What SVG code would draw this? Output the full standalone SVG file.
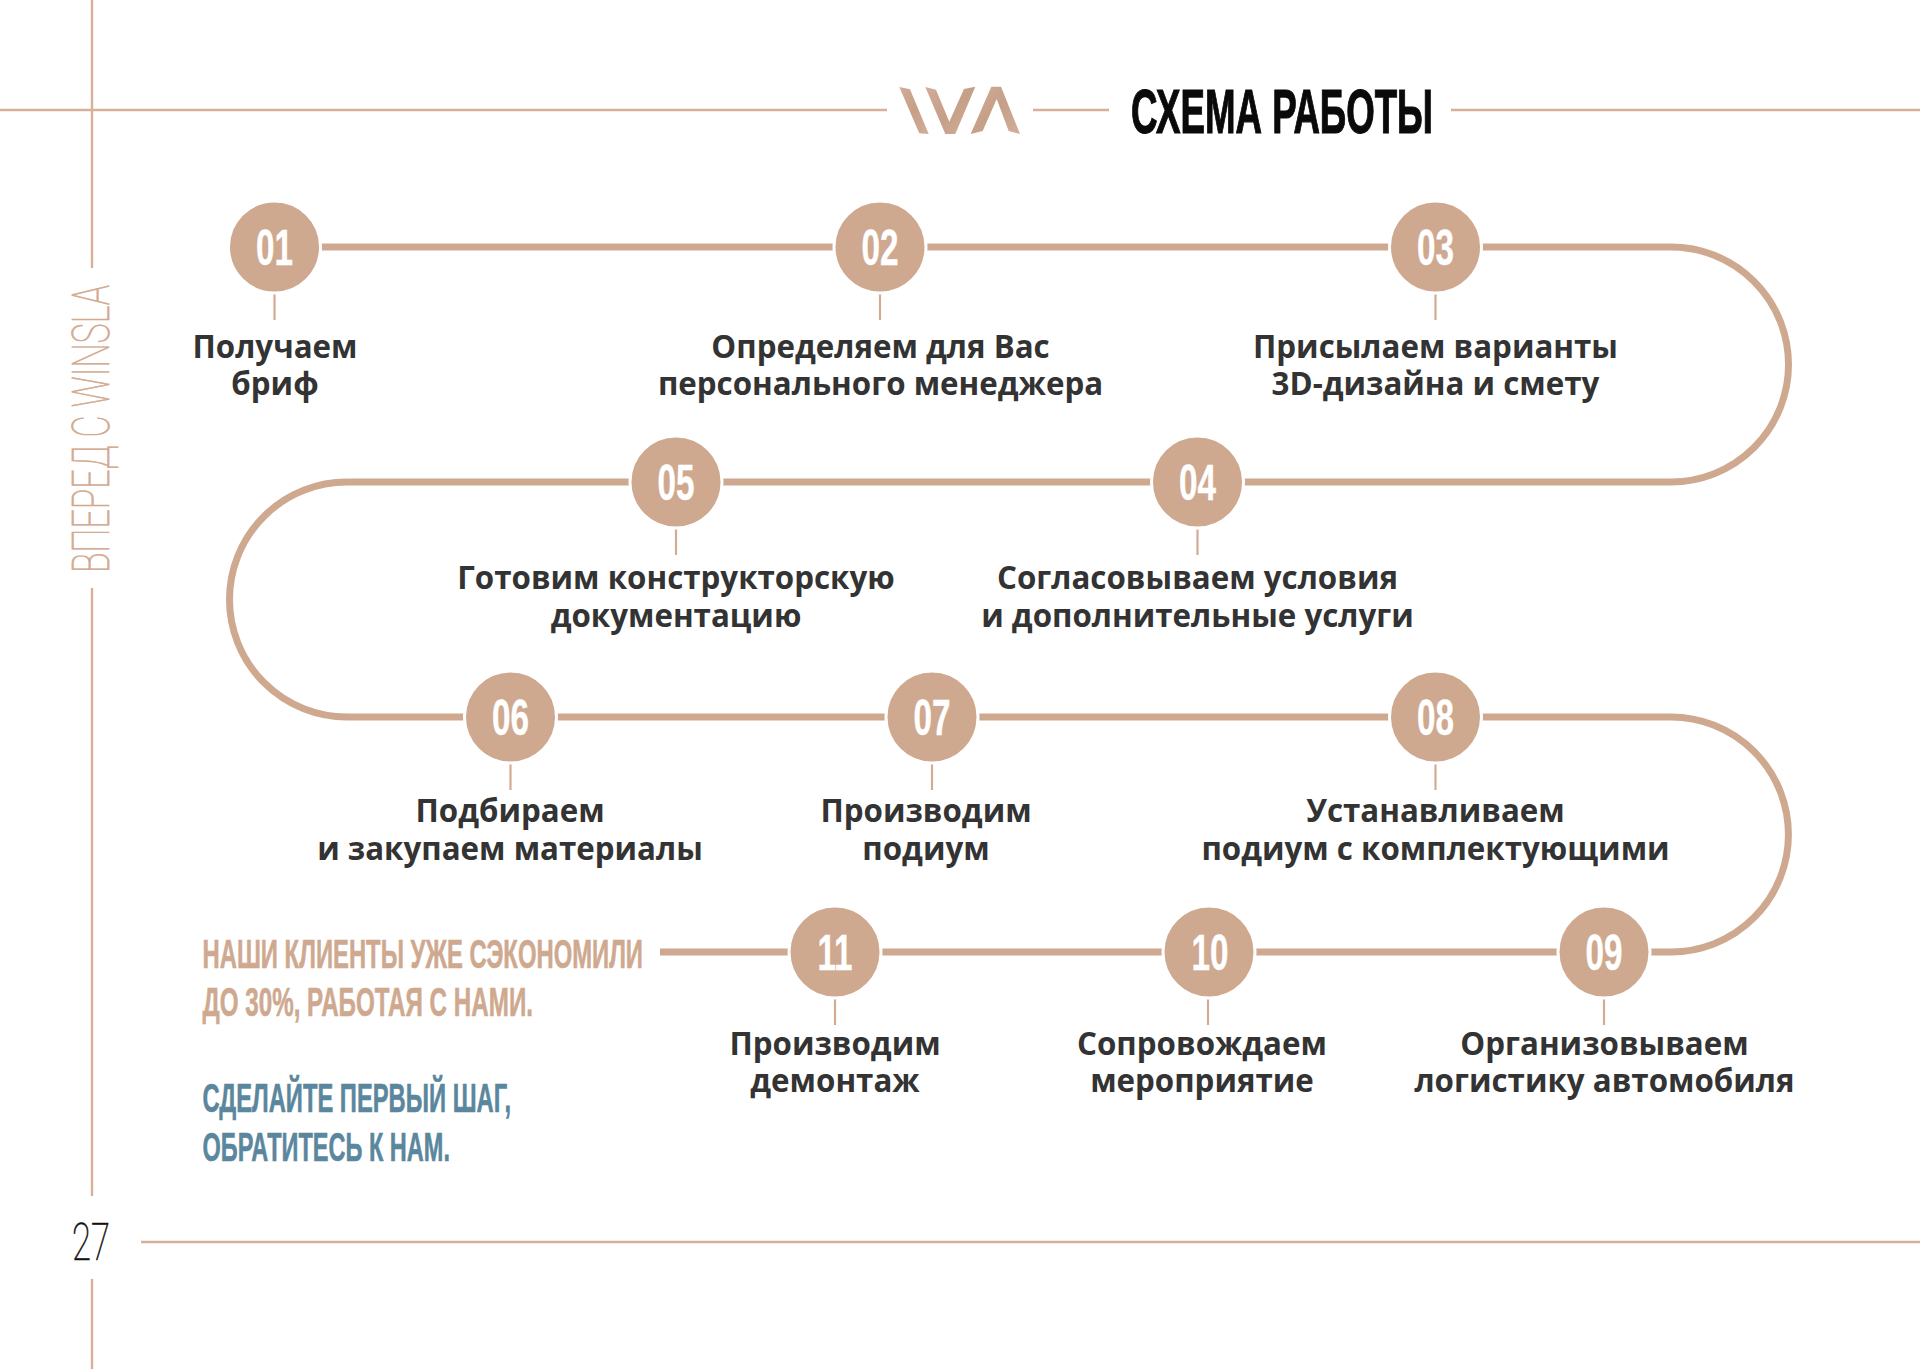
<svg xmlns="http://www.w3.org/2000/svg" width="1920" height="1369" viewBox="0 0 1920 1369">
<defs>
<linearGradient id="lg" x1="0" y1="0" x2="1" y2="1"><stop offset="0" stop-color="#d2ad97"/><stop offset="0.5" stop-color="#c59f87"/><stop offset="1" stop-color="#d3ae98"/></linearGradient>
</defs>
<style>
.hair{stroke:#d8b09a;stroke-width:2.400;fill:none}
.tick{stroke:#d3ab93;stroke-width:2.200;fill:none}
.road{stroke:#cfa98f;stroke-width:7;fill:none}
.c{fill:#cfa98f;stroke:#fff;stroke-width:3}
.n{font:700 50px "Liberation Sans",sans-serif;fill:#fff;stroke:#fff;stroke-width:.4;text-anchor:middle}
.l{font:700 31.300px "Open Sans",sans-serif;fill:#333;text-anchor:middle}
.h{font:700 40px "Liberation Sans",sans-serif;stroke-width:.6}
.thin{font:100 52px "Roboto",sans-serif;stroke-width:.7}
</style>
<rect width="1920" height="1369" fill="#fff"/>
<g id="frame">
<path class="hair" d="M92 0V268M92 588V1196M92 1279V1369M0 110H887M1033 110H1109M1451 110H1920M141 1242H1920"/>
</g>
<g id="logo" fill="url(#lg)">
<polygon points="899.300,87 910,89.300 928.700,134 919.300,133.300"/>
<polygon points="925.300,87 936,89.700 949.300,121.700 964,89 975.300,86.700 955.300,134 945.300,134"/>
<polygon points="991.300,86.700 1001,86.700 1020,134 1008.700,131 996.700,99 982.700,131 970.700,134"/>
</g>
<text id="title" x="1131" y="133" font-family="Liberation Sans,sans-serif" font-weight="700" font-size="63" fill="#0a0a0a" stroke="#0a0a0a" stroke-width="1.200" textLength="302" lengthAdjust="spacingAndGlyphs">СХЕМА РАБОТЫ</text>
<text id="side" class="thin" transform="translate(109 573) rotate(-90)" fill="#d2a98f" stroke="#d2a98f" textLength="288" lengthAdjust="spacingAndGlyphs">ВПЕРЕД С WINSLA</text>
<text id="page" class="thin" x="72" y="1260" fill="#111" stroke="#111" textLength="38" lengthAdjust="spacingAndGlyphs">27</text>
<g id="connectors">
<path class="road" d="M321 247H1671A117.500 117.500 0 0 1 1671 482H347A117.500 117.500 0 0 0 347 717H1671A117.500 117.500 0 0 1 1671 952H660"/>
<path class="tick" d="M274.500 292V320M880 292V320M1435.500 292V320M1197.500 527V555M676 527V555M510.500 762V790M932 762V790M1435.500 762V790M1604 997V1025M1208 997V1025M835 997V1025"/>
</g>
<g id="node01"><circle class="c" cx="274.500" cy="247" r="46"/><text class="n" x="274.500" y="264.500" textLength="37" lengthAdjust="spacingAndGlyphs">01</text><text class="l" x="275" y="357.500">Получаем</text><text class="l" x="275" y="394.500">бриф</text></g>
<g id="node02"><circle class="c" cx="880" cy="247" r="46"/><text class="n" x="880" y="264.500" textLength="37" lengthAdjust="spacingAndGlyphs">02</text><text class="l" x="880.500" y="357.500">Определяем для Вас</text><text class="l" x="880.500" y="394.500">персонального менеджера</text></g>
<g id="node03"><circle class="c" cx="1435.500" cy="247" r="46"/><text class="n" x="1435.500" y="264.500" textLength="37" lengthAdjust="spacingAndGlyphs">03</text><text class="l" x="1435.500" y="357.500">Присылаем варианты</text><text class="l" x="1435.500" y="394.500">3D-дизайна и смету</text></g>
<g id="node04"><circle class="c" cx="1197.500" cy="482" r="46"/><text class="n" x="1197.500" y="499.500" textLength="37" lengthAdjust="spacingAndGlyphs">04</text><text class="l" x="1197.500" y="589">Согласовываем условия</text><text class="l" x="1197.500" y="626.500">и дополнительные услуги</text></g>
<g id="node05"><circle class="c" cx="676" cy="482" r="46"/><text class="n" x="676" y="499.500" textLength="37" lengthAdjust="spacingAndGlyphs">05</text><text class="l" x="676" y="589">Готовим конструкторскую</text><text class="l" x="676" y="626.500">документацию</text></g>
<g id="node06"><circle class="c" cx="510.500" cy="717" r="46"/><text class="n" x="510.500" y="734.500" textLength="37" lengthAdjust="spacingAndGlyphs">06</text><text class="l" x="510" y="822">Подбираем</text><text class="l" x="510" y="859.500">и закупаем материалы</text></g>
<g id="node07"><circle class="c" cx="932" cy="717" r="46"/><text class="n" x="932" y="734.500" textLength="37" lengthAdjust="spacingAndGlyphs">07</text><text class="l" x="926" y="822">Производим</text><text class="l" x="926" y="859.500">подиум</text></g>
<g id="node08"><circle class="c" cx="1435.500" cy="717" r="46"/><text class="n" x="1435.500" y="734.500" textLength="37" lengthAdjust="spacingAndGlyphs">08</text><text class="l" x="1435.500" y="822">Устанавливаем</text><text class="l" x="1435.500" y="859.500">подиум с комплектующими</text></g>
<g id="node09"><circle class="c" cx="1604" cy="952" r="46"/><text class="n" x="1604" y="969.500" textLength="37" lengthAdjust="spacingAndGlyphs">09</text><text class="l" x="1604.500" y="1054.500">Организовываем</text><text class="l" x="1604.500" y="1091.500">логистику автомобиля</text></g>
<g id="node10"><circle class="c" cx="1209" cy="952" r="46"/><text class="n" x="1210" y="969.500" textLength="37" lengthAdjust="spacingAndGlyphs">10</text><text class="l" x="1202" y="1054.500">Сопровождаем</text><text class="l" x="1202" y="1091.500">мероприятие</text></g>
<g id="node11"><circle class="c" cx="835" cy="952" r="46"/><text class="n" x="835" y="969.500" textLength="35" lengthAdjust="spacingAndGlyphs" stroke="none">11</text><text class="l" x="835" y="1054.500">Производим</text><text class="l" x="835" y="1091.500">демонтаж</text></g>
<g id="note">
<text class="h" x="202.500" y="968" fill="#cfa98f" stroke="#cfa98f" textLength="440.500" lengthAdjust="spacingAndGlyphs">НАШИ КЛИЕНТЫ УЖЕ СЭКОНОМИЛИ</text>
<text class="h" x="202.500" y="1016" fill="#cfa98f" stroke="#cfa98f" textLength="330.500" lengthAdjust="spacingAndGlyphs">ДО 30%, РАБОТАЯ С НАМИ.</text>
<text class="h" x="202.500" y="1112" fill="#5a879d" stroke="#5a879d" textLength="308.500" lengthAdjust="spacingAndGlyphs">СДЕЛАЙТЕ ПЕРВЫЙ ШАГ,</text>
<text class="h" x="202.500" y="1161" fill="#5a879d" stroke="#5a879d" textLength="247.500" lengthAdjust="spacingAndGlyphs">ОБРАТИТЕСЬ К НАМ.</text>
</g>
</svg>
